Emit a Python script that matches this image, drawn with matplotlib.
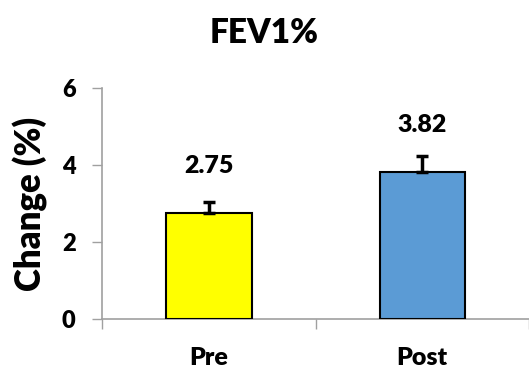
import numpy as np
import matplotlib.pyplot as plt

plt.rcParams['font.family'] = ['Lato', 'DejaVu Sans']
plt.rcParams['font.weight'] = 'heavy'

groups = ['Pre', 'Post']
change = [2.75, 3.82]
err = [0.29, 0.41]
colors = ['#FFFF00', '#5B9BD5']

fig = plt.figure(figsize=(5.29, 3.71), dpi=100)
ax = fig.add_axes([0.193, 0.140, 0.807, 0.623])

x = np.arange(len(groups))
ax.bar(x, change, width=0.4, color=colors, edgecolor='black', linewidth=1.5,
       yerr=[np.zeros(len(err)), err], capsize=4,
       error_kw=dict(elinewidth=2.5, capthick=2.5, ecolor='black'), zorder=3)

for xi, v in zip(x, change):
    ax.annotate('%.2f' % v, (xi, v), xytext=(0, 26), textcoords='offset points',
                ha='center', va='bottom', fontsize=18, fontweight='heavy')

ax.set_xlim(-0.5, 1.5)
ax.set_ylim(0, 6)
ax.set_yticks([0, 2, 4, 6])
ax.set_xticks(x)
ax.set_xticklabels(groups, fontweight='heavy')
ax.set_yticklabels(['0', '2', '4', '6'], fontweight='heavy')
ax.set_xticks([-0.5, 0.5, 1.5], minor=True)
ax.tick_params(axis='x', which='major', length=0, pad=20, labelsize=18)
ax.tick_params(axis='x', which='minor', length=7, color='#A0A0A0', width=1)
ax.tick_params(axis='y', length=7, color='#A0A0A0', width=1, labelsize=17, pad=12)

for s in ['top', 'right']:
    ax.spines[s].set_visible(False)
for s in ['left', 'bottom']:
    ax.spines[s].set_color('#A0A0A0')
    ax.spines[s].set_linewidth(1.2)

ax.set_ylabel('Change (%)', fontsize=25, fontweight='heavy', labelpad=10)
fig.text(0.5, 0.91, 'FEV1%', ha='center', va='center', fontsize=24, fontweight='heavy')

fig.savefig('out.png', dpi=100)
